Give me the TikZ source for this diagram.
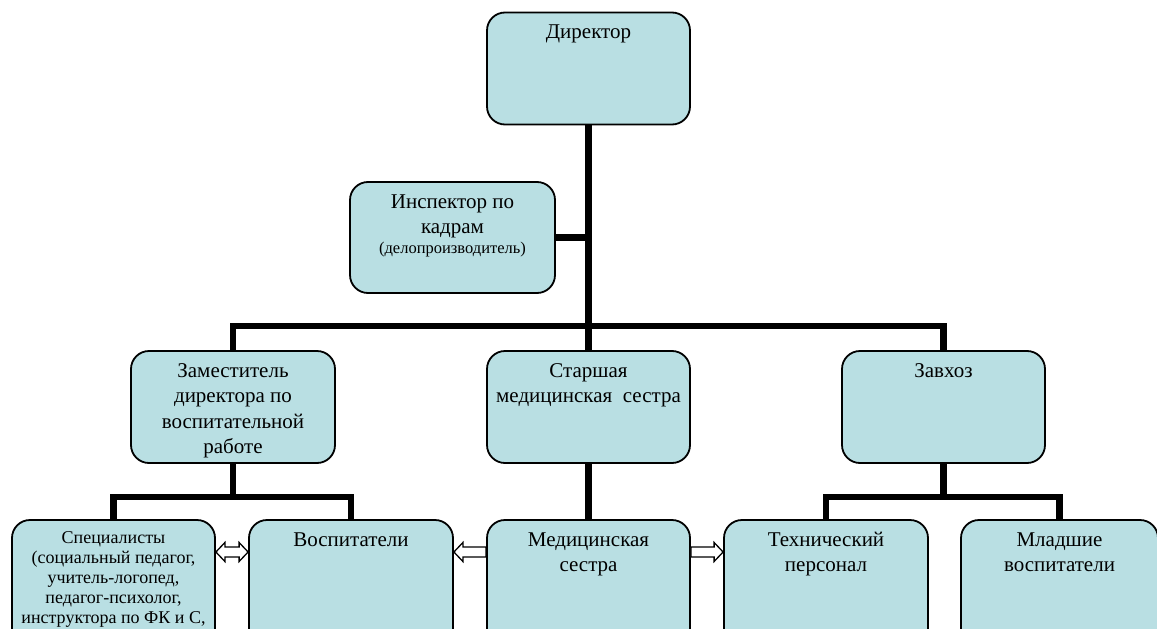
\documentclass[tikz,border=0pt]{standalone}
\usepackage{fontspec}
\setmainfont{Liberation Serif}
\usetikzlibrary{calc,backgrounds}
\definecolor{boxfill}{RGB}{185,223,227}
\newcommand{\fl}{\rule{0pt}{15pt}}
\newcommand{\fls}{\rule{0pt}{13pt}}
\tikzset{
  box/.style={draw=black, line width=1.8pt, fill=boxfill, rounded corners=18pt,
    inner sep=0pt, minimum width=203pt, minimum height=112pt},
  lowbox/.style={box, minimum height=130pt},
  txt/.style={anchor=north, align=center, inner sep=0pt, font=\fontsize{21}{25.5}\selectfont},
  stxt/.style={txt, font=\fontsize{18}{20}\selectfont},
  link/.style={line width=6.5pt, black, line cap=rect},
  harrow/.style={draw=black, fill=white, line width=1.3pt, line join=miter},
}
\begin{document}
\begin{tikzpicture}[x=1pt, y=-1pt]
\useasboundingbox (0,0) rectangle (1157,629);
\clip (0,0) rectangle (1157,629);
% boxes
\node[box] (dir)  at (588.5,68.5) {};
\node[box, minimum width=205pt, minimum height=111pt] (insp) at (452.5,237.5) {};
\node[box, minimum width=204pt] (zam)  at (233,407) {};
\node[box] (st)   at (588.5,407) {};
\node[box] (zav)  at (943.5,407) {};
\node[lowbox] (spec) at (113.5,585) {};
\node[lowbox, minimum width=204pt] (vosp) at (351,585) {};
\node[lowbox] (med)  at (588.5,585) {};
\node[lowbox, minimum width=204pt] (tech) at (826,585) {};
\node[lowbox, minimum width=197pt] (mlad) at (1059.5,585) {};
% texts (first baseline = y + 15)
\node[txt] (dirT)  at (588.5,23) {\fl Директор};
\node[txt] (inspT) at (452.5,193) {\fl Инспектор по\\кадрам\\[-5.5pt]{\fontsize{16.5}{18}\selectfont (делопроизводитель)}};
\node[txt] (zamT)  at (233,362) {\fl Заместитель\\директора по\\воспитательной\\работе};
\node[txt] (stT)   at (588.5,362) {\fl Старшая\\медицинская~~сестра};
\node[txt] (zavT)  at (943.5,362) {\fl Завхоз};
\node[stxt] (specT) at (113.5,530) {\fls Специалисты\\(социальный педагог,\\учитель-логопед,\\педагог-психолог,\\инструктора по ФК и С,};
\node[txt] (vospT) at (351,531) {\fl Воспитатели};
\node[txt] (medT)  at (588.5,531) {\fl Медицинская\\сестра};
\node[txt] (techT) at (826,531) {\fl Технический\\персонал};
\node[txt] (mladT) at (1059.5,531) {\fl Младшие\\воспитатели};
% connectors
\begin{pgfonlayer}{background}
\draw[link] (dir.south) -- (st.north);
\draw[link] (insp.east) -- (insp.east -| dir.south);
\draw[link] (zam.north) -- ++(0,-24) -| (zav.north);
\draw[link] (st.south) -- (med.north);
\draw[link] (zam.south) -- ++(0,33) -| (spec.north);
\draw[link] (zam.south) -- ++(0,33) -| (vosp.north);
\draw[link] (zav.south) -- ++(0,33) -| (tech.north);
\draw[link] (zav.south) -- ++(0,33) -| (mlad.north);
\end{pgfonlayer}
% hollow block arrows
\coordinate (a1) at ($(spec.east)+(0,-33)$);
\coordinate (a2) at ($(vosp.east)+(0,-33)$);
\coordinate (a3) at ($(tech.west)+(0,-33)$);
\draw[harrow] (a1) -- ++(9,-9.5) -- ++(0,4.5) -- ++(14.2,0) -- ++(0,-4.5) -- ++(9,9.5)
  -- ++(-9,9.5) -- ++(0,-4.5) -- ++(-14.2,0) -- ++(0,4.5) -- cycle;
\draw[harrow] (a2) -- ++(9,-9.5) -- ++(0,4.5) -- ++(23.2,0) -- ++(0,10) -- ++(-23.2,0)
  -- ++(0,4.5) -- cycle;
\draw[harrow] (a3) -- ++(-9,-9.5) -- ++(0,4.5) -- ++(-23.2,0) -- ++(0,10) -- ++(23.2,0)
  -- ++(0,4.5) -- cycle;
\end{tikzpicture}
\end{document}
